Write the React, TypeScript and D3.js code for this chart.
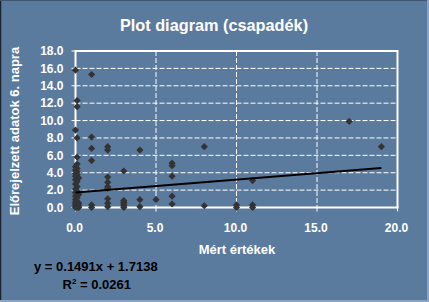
import React from "react";
import * as d3 from "d3";

const W = 429;
const H = 302;

const xTicks = [0, 5, 10, 15, 20];
const yTicks = [0, 2, 4, 6, 8, 10, 12, 14, 16, 18];

// measured values (x) and forecast values (y)
const measured = [
  0, 0.1, 0.1, 0, 0.1, 0.1, 0.1, 0, 0.1, 0, 0.1, 0, 0.1, 0, 0.2, 0, 0.1, 0, 0.1, 0, 0.1, 0, 0.2, 0, 0.1, 0, 0.1, 0.2, 0, 0.1, 0, 0.1, 0, 0.2, 0.1, 0, 0.2,
  1, 1, 1, 1, 1, 1,
  2, 2, 2, 2, 2, 2, 2, 2, 2,
  3, 3, 3, 3, 3, 3,
  4, 4, 4,
  5,
  6, 6, 6, 6, 6,
  8, 8,
  10, 10,
  11, 11, 11,
  17,
  19,
];
const forecast = [
  15.8, 12.3, 11.6, 8.9, 8.0, 5.8, 5.0, 4.7, 4.5, 4.3, 4.1, 3.9, 3.8, 3.6, 3.4, 3.2, 3.0, 2.7, 2.4, 2.1, 1.9, 1.7, 1.5, 1.3, 1.1, 0.9, 0.7, 0.5, 0.4, 0.3, 0.2, 0.1, 0.0, 0.0, 0.0, 0.6, 0.2,
  15.3, 8.1, 6.8, 5.4, 0.3, 0.0,
  7.0, 6.6, 3.5, 2.9, 2.4, 2.2, 1.0, 0.5, 0.1,
  4.2, 0.8, 0.6, 0.4, 0.2, 0.0,
  6.6, 0.9, 0.1,
  0.9,
  5.1, 4.8, 3.6, 1.3, 0.4,
  7.0, 0.2,
  0.3, 0.0,
  3.1, 0.3, 0.0,
  9.9,
  7.0,
];

const slope = 0.1491;
const intercept = 1.7138;
const equationText = "y = 0.1491x + 1.7138";
const r2Value = "0.0261";

const title = "Plot diagram (csapadék)";
const xTitle = "Mért értékek";
const yTitle = "Előrejelzett adatok 6. napra";

export default function App() {
  const left = 75.5;
  const right = 397.5;
  const top = 51;
  const bottom = 207.5;
  const x = d3.scaleLinear().domain([0, 20]).range([left, right]);
  const y = d3.scaleLinear().domain([0, 18]).range([bottom, top]);
  const font = "'Liberation Sans', Arial, sans-serif";
  const pts = measured.map((m, i) => [m, forecast[i]] as [number, number]);
  const xMax = d3.max(measured) as number;
  const trend = d3.line<number>()
    .x((d) => x(d))
    .y((d) => y(slope * d + intercept))([0, xMax]);
  const r = 3.6;
  const diamond = `M0,${-r}L${r},0L0,${r}L${-r},0Z`;

  return (
    <svg width={W} height={H} style={{ position: "absolute", left: 0, top: 0 }} fontFamily={font}>
      <rect x={0} y={0} width={W} height={H} fill="#5b7b9e" />
      <line x1={0.5} y1={0} x2={0.5} y2={H} stroke="#1a2430" strokeWidth={1.5} />
      <line x1={0} y1={0.5} x2={W} y2={0.5} stroke="#3e566f" strokeWidth={1} />
      <line x1={W - 1} y1={0} x2={W - 1} y2={H} stroke="#8aa4c2" strokeWidth={2} />
      <line x1={0} y1={H - 1} x2={W} y2={H - 1} stroke="#8aa4c2" strokeWidth={2} />

      <text x={214} y={30.5} textAnchor="middle" fill="#fff" fontWeight="bold" fontSize={16.3}>{title}</text>

      {/* gridlines */}
      {yTicks.filter((t) => t > 0 && t < 18).map((t) => (
        <line key={"gy" + t} x1={left} x2={right} y1={y(t)} y2={y(t)} stroke="#fff" strokeWidth={1} strokeDasharray="5,2" />
      ))}
      {xTicks.filter((t) => t > 0 && t < 20).map((t) => (
        <line key={"gx" + t} x1={x(t)} x2={x(t)} y1={top} y2={bottom} stroke="#fff" strokeWidth={1} strokeDasharray="5,2" />
      ))}

      {/* frame */}
      <line x1={left} x2={right} y1={top} y2={top} stroke="#fff" strokeWidth={2} />
      <line x1={right} x2={right} y1={top - 1} y2={bottom} stroke="#fff" strokeWidth={2} />
      <line x1={left} x2={left} y1={top - 1} y2={bottom + 1} stroke="#fff" strokeWidth={2} />
      <line x1={left - 1} x2={right + 1} y1={bottom} y2={bottom} stroke="#fff" strokeWidth={2} />

      {/* ticks */}
      {yTicks.map((t) => (
        <g key={"ty" + t}>
          <line x1={left - 4} x2={left} y1={y(t)} y2={y(t)} stroke="#fff" strokeWidth={1} />
          <text x={63.5} y={y(t) + 4.3} textAnchor="end" fill="#fff" fontWeight="bold" fontSize={12}>{t.toFixed(1)}</text>
        </g>
      ))}
      {xTicks.map((t) => (
        <g key={"tx" + t}>
          <line x1={x(t)} x2={x(t)} y1={bottom} y2={bottom + 4} stroke="#fff" strokeWidth={1} />
          <text x={x(t) - 1} y={231.5} textAnchor="middle" fill="#fff" fontWeight="bold" fontSize={12}>{t.toFixed(1)}</text>
        </g>
      ))}

      {/* points */}
      {pts.map((p, i) => (
        <path key={i} d={diamond} transform={`translate(${x(p[0])},${y(p[1])})`} fill="#333333" />
      ))}

      {/* trendline */}
      <path d={trend || ""} stroke="#000" strokeWidth={2} fill="none" />

      <text x={237} y={254.3} textAnchor="middle" fill="#fff" fontWeight="bold" fontSize={13}>{xTitle}</text>
      <text transform="translate(19,131) rotate(-90)" textAnchor="middle" fill="#fff" fontWeight="bold" fontSize={13}>{yTitle}</text>

      <text x={34} y={271} fill="#000" fontWeight="bold" fontSize={13}>{equationText}</text>
      <text x={62.5} y={289.3} fill="#000" fontWeight="bold" fontSize={13}>
        R<tspan fontSize={8} dy={-5.5}>2</tspan><tspan dy={5.5}>{" = " + r2Value}</tspan>
      </text>
    </svg>
  );
}
